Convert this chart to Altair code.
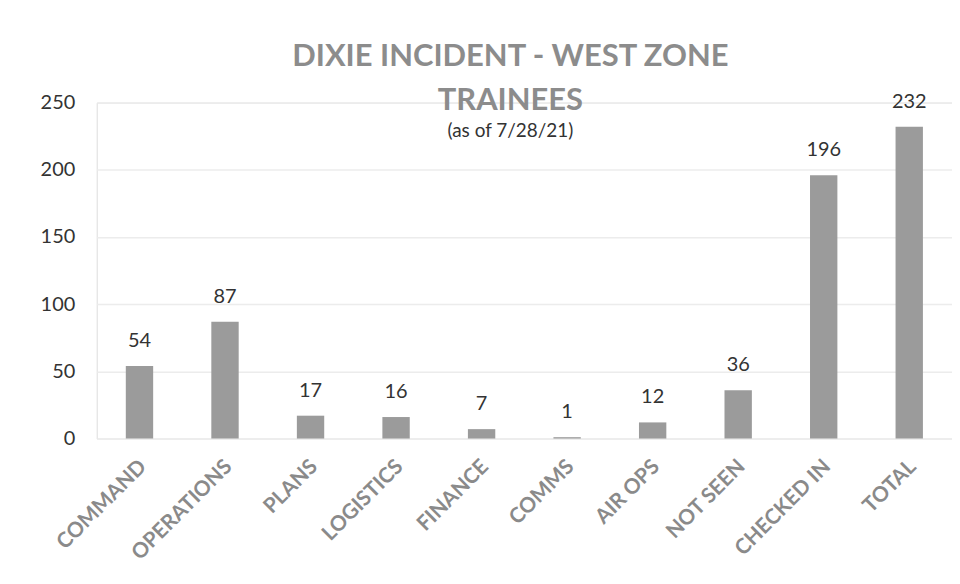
import altair as alt
import pandas as pd

categories = ["COMMAND", "OPERATIONS", "PLANS", "LOGISTICS", "FINANCE",
              "COMMS", "AIR OPS", "NOT SEEN", "CHECKED IN", "TOTAL"]
values = [54, 87, 17, 16, 7, 1, 12, 36, 196, 232]

df = pd.DataFrame({"category": categories, "value": values})

FONT = "Lato"

base = alt.Chart(df).encode(
    x=alt.X("category:N", sort=categories, title=None,
            scale=alt.Scale(paddingInner=0.68, paddingOuter=0.34),
            axis=alt.Axis(labelAngle=-45, labelFont=FONT, labelFontSize=21,
                          labelFontWeight="bold", labelColor="#8a8a8a",
                          labelPadding=17, labelOffset=-4,
                          ticks=False, domain=False)),
    y=alt.Y("value:Q", title=None,
            scale=alt.Scale(domain=[0, 250]),
            axis=alt.Axis(values=[0, 50, 100, 150, 200, 250], labelFont=FONT,
                          labelFontSize=20, labelColor="#333333",
                          labelPadding=22, ticks=False, domain=False,
                          gridColor="#ececec", gridWidth=1.5)),
)

bars = base.mark_bar(color="#9b9b9b")
labels = base.mark_text(dy=-25, baseline="middle", font=FONT, fontSize=20,
                        color="#333333").encode(text="value:Q")

chart = (bars + labels).properties(
    width=858, height=337,
    autosize=alt.AutoSizeParams(type="none"),
    padding={"left": 89, "top": 94, "right": 0, "bottom": 137},
    title=alt.TitleParams(
        text=["DIXIE INCIDENT - WEST ZONE", "TRAINEES"],
        subtitle="(as of 7/28/21)",
        font=FONT, fontSize=31, fontWeight="bold", color="#8c8c8c",
        lineHeight=44,
        subtitleFont=FONT, subtitleFontSize=19, subtitleColor="#333333",
        subtitlePadding=5,
        anchor="middle", dx=-14, offset=-50,
    ),
).configure_view(stroke=None).configure(background="white")

chart.save("out.html", embed_options={"renderer": "svg", "actions": False})
